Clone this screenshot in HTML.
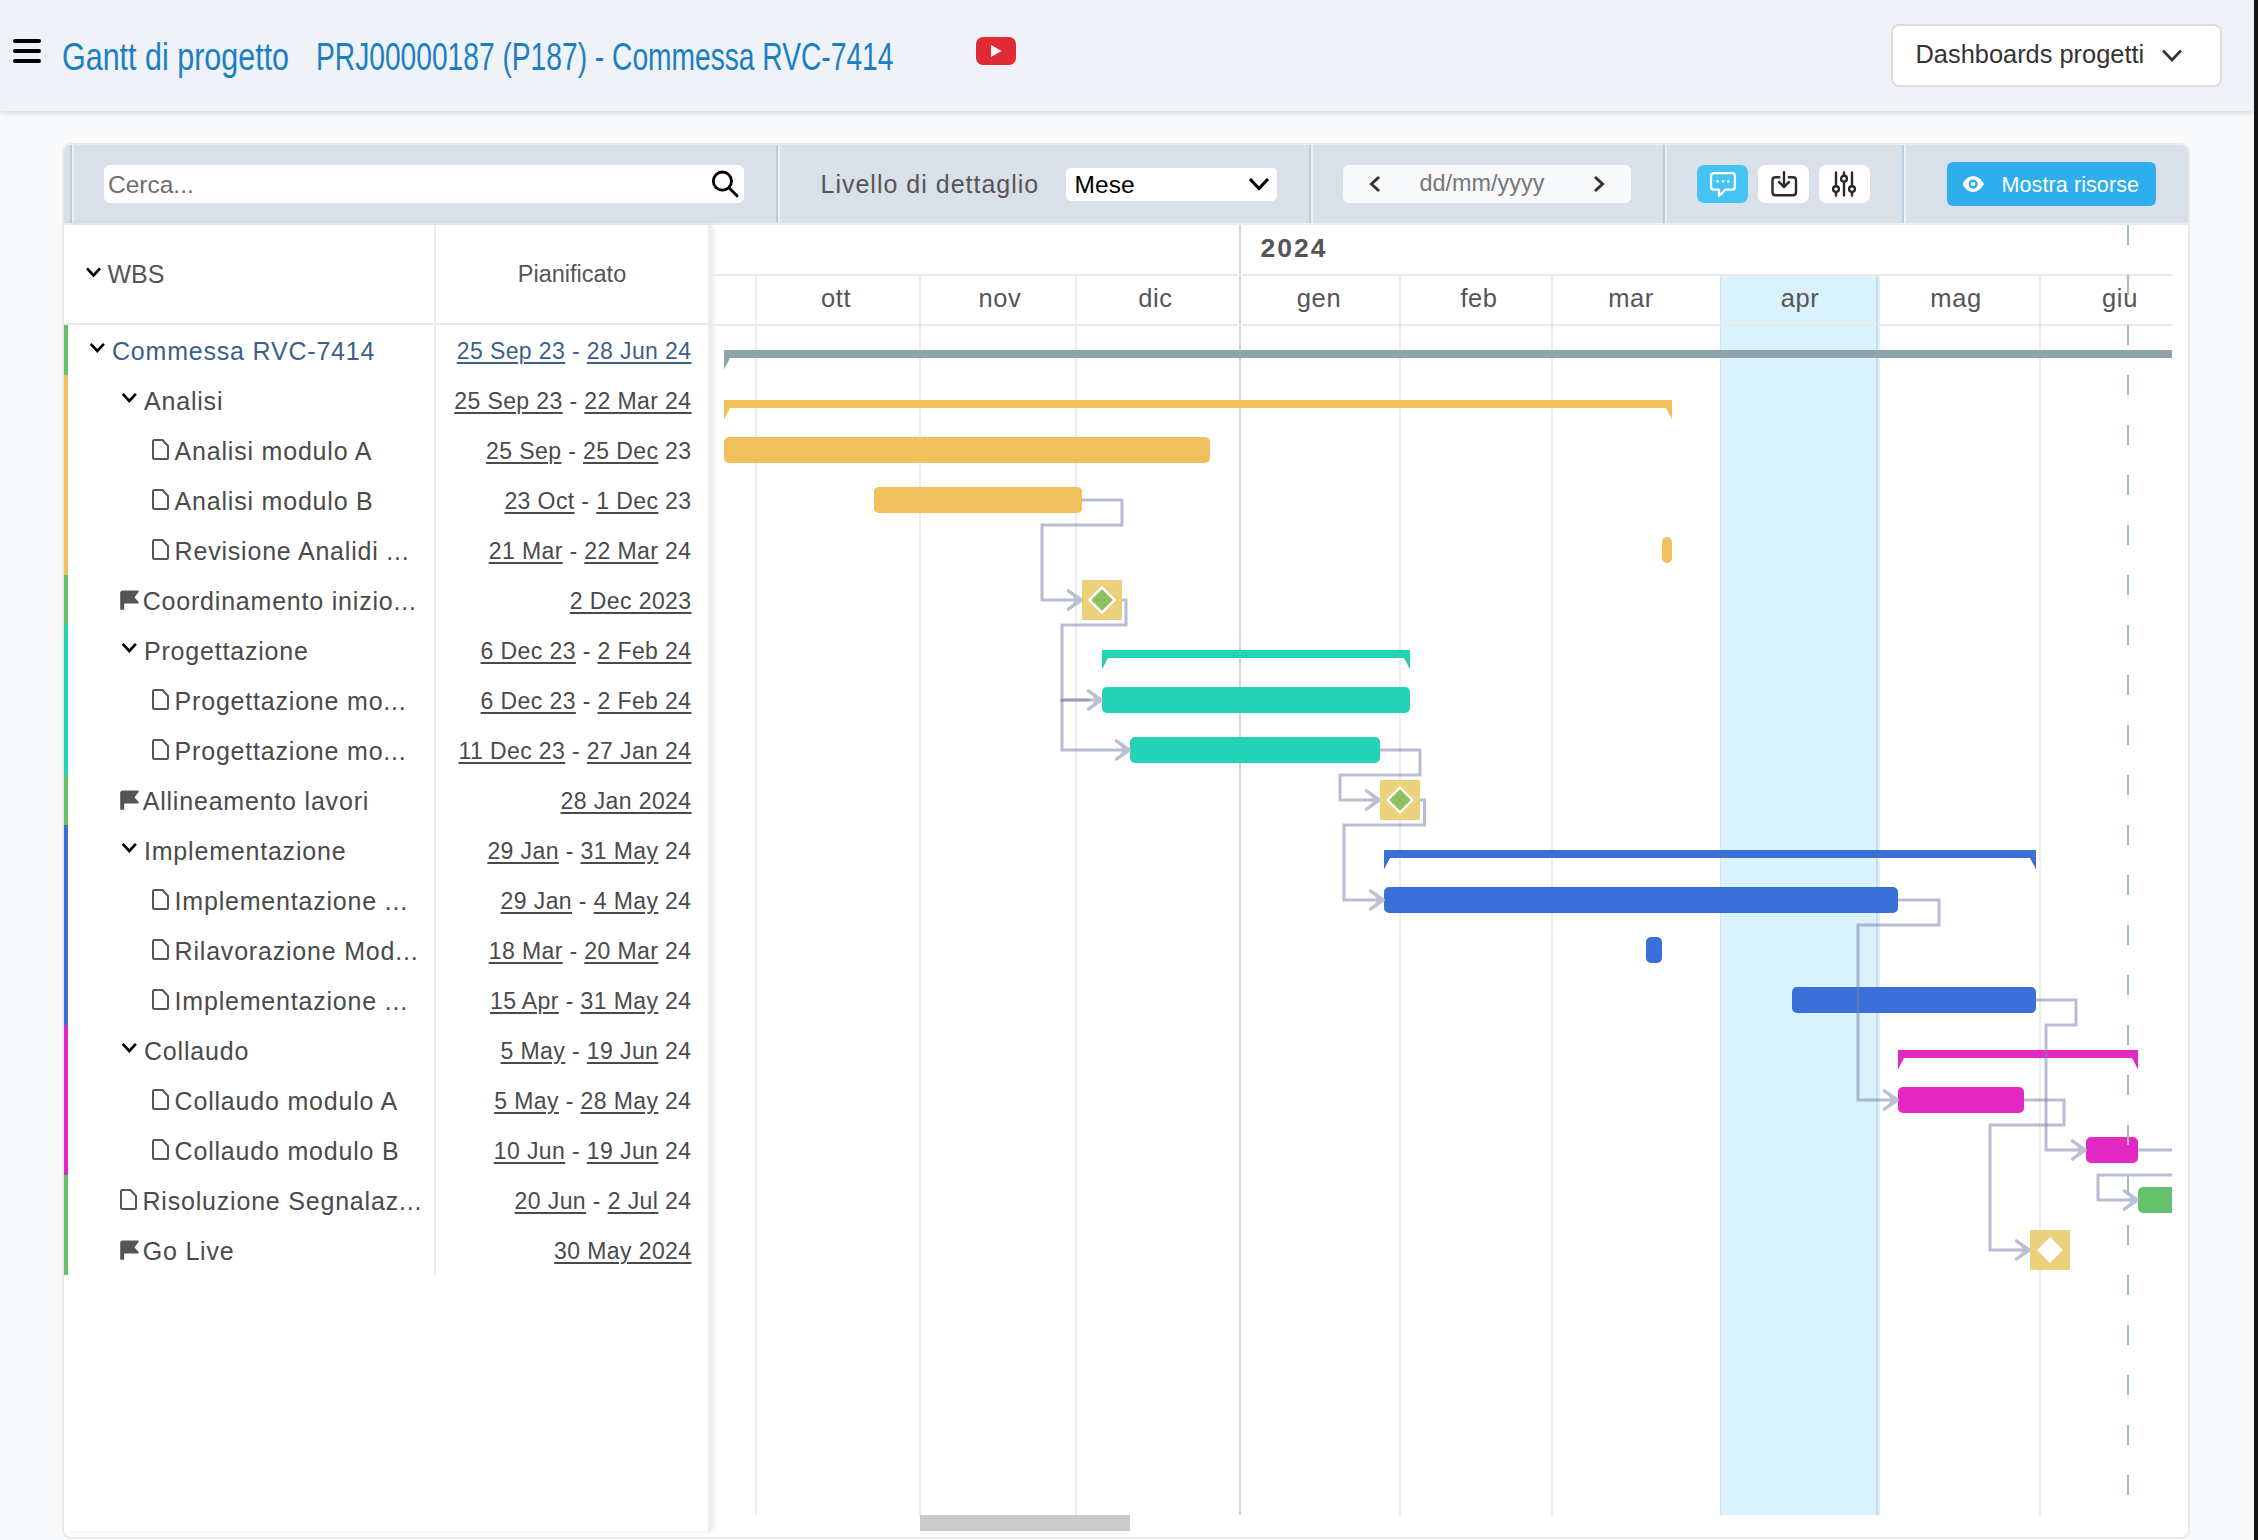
<!DOCTYPE html><html><head><meta charset="utf-8"><style>
html,body{margin:0;padding:0;}
body{width:2258px;height:1540px;position:relative;overflow:hidden;background:#f8f9fb;font-family:"Liberation Sans",sans-serif;}
.t{position:absolute;white-space:nowrap;}
.a{position:absolute;}
u{text-decoration:underline;text-decoration-thickness:2px;text-underline-offset:3px;}
</style></head><body>
<div class="a" style="left:0;top:0;width:2254px;height:111px;background:#eff2f7;box-shadow:0 2px 5px rgba(0,0,0,0.12);"></div>
<div class="a" style="left:13px;top:39px;width:28px;height:4px;border-radius:2px;background:#000;"></div>
<div class="a" style="left:13px;top:49px;width:28px;height:4px;border-radius:2px;background:#000;"></div>
<div class="a" style="left:13px;top:59px;width:28px;height:4px;border-radius:2px;background:#000;"></div>
<div class="t" style="left:61.8px;top:38.49px;font-size:38.4px;line-height:38.4px;color:#1b7fc4;transform:scaleX(0.794);transform-origin:0 0;">Gantt di progetto</div>
<div class="t" style="left:316px;top:38.49px;font-size:38.4px;line-height:38.4px;color:#1b7fc4;transform:scaleX(0.734);transform-origin:0 0;">PRJ00000187 (P187) - Commessa RVC-7414</div>
<svg class="a" style="left:0;top:0" width="1100" height="100"><rect x="976" y="37" width="40" height="28" rx="7" fill="#e02a36"/><path d="M991 45 L1001.5 51 L991 57 Z" fill="#fff"/></svg>
<div class="a" style="left:1890.5px;top:23.5px;width:327px;height:59px;border:2px solid #dcdcdc;border-radius:8px;background:#fff;"></div>
<div class="t" style="left:1915.5px;top:42.10px;font-size:25.4px;line-height:25.4px;color:#333;">Dashboards progetti</div>
<svg class="a" style="left:2150px;top:40px" width="50" height="30"><path d="M13 10.5 L22 20 L31 10.5" fill="none" stroke="#333" stroke-width="2.6"/></svg>
<div class="a" style="left:2254px;top:0;width:4px;height:1540px;background:#151515;"></div>
<div class="a" style="left:62px;top:143px;width:2124px;height:1392px;border:2px solid #eaeaea;border-radius:9px;background:#fff;overflow:hidden;"></div>
<div class="a" style="left:64px;top:145px;width:2124px;height:78px;background:#d9e0ea;border-radius:7px 7px 0 0;"></div>
<div class="a" style="left:64px;top:223px;width:2124px;height:2px;background:#ececec;"></div>
<div class="a" style="left:70px;top:145px;width:2px;height:78px;background:#b9cbde;"></div>
<div class="a" style="left:72px;top:145px;width:2px;height:78px;background:#eef0f3;"></div>
<div class="a" style="left:776px;top:145px;width:2px;height:78px;background:#b9cbde;"></div>
<div class="a" style="left:778px;top:145px;width:2px;height:78px;background:#eef0f3;"></div>
<div class="a" style="left:1309px;top:145px;width:2px;height:78px;background:#b9cbde;"></div>
<div class="a" style="left:1311px;top:145px;width:2px;height:78px;background:#eef0f3;"></div>
<div class="a" style="left:1663px;top:145px;width:2px;height:78px;background:#b9cbde;"></div>
<div class="a" style="left:1665px;top:145px;width:2px;height:78px;background:#eef0f3;"></div>
<div class="a" style="left:1902px;top:145px;width:2px;height:78px;background:#b9cbde;"></div>
<div class="a" style="left:1904px;top:145px;width:2px;height:78px;background:#eef0f3;"></div>
<div class="a" style="left:104px;top:165px;width:640px;height:38px;border-radius:6px;background:#fff;"></div>
<div class="t" style="left:108px;top:172.96px;font-size:24.5px;line-height:24.5px;color:#6f6f6f;">Cerca...</div>
<svg class="a" style="left:700px;top:160px" width="50" height="50"><circle cx="22.4" cy="21.1" r="9.1" fill="none" stroke="#000" stroke-width="2.8"/><path d="M29 27.7 L37 35.7" stroke="#000" stroke-width="2.9" stroke-linecap="round"/></svg>
<div class="t" style="left:820.5px;top:172.24px;font-size:25px;line-height:25px;color:#555;letter-spacing:1px;">Livello di dettaglio</div>
<div class="a" style="left:1066px;top:168px;width:211px;height:33px;border-radius:5px;background:#fff;"></div>
<div class="t" style="left:1074.6px;top:173.06px;font-size:24.5px;line-height:24.5px;color:#000;">Mese</div>
<svg class="a" style="left:1240px;top:170px" width="40" height="30"><path d="M10 9 L19 18.5 L28 9" fill="none" stroke="#000" stroke-width="3.2"/></svg>
<div class="a" style="left:1343px;top:165px;width:288px;height:38px;border-radius:6px;background:#f7f9fb;"></div>
<svg class="a" style="left:1360px;top:170px" width="260" height="30"><path d="M19 7 L11.5 14 L19 21" fill="none" stroke="#333" stroke-width="3"/><path d="M235 7 L242.5 14 L235 21" fill="none" stroke="#333" stroke-width="3"/></svg>
<div class="t" style="left:1419.6px;top:172.19px;font-size:23.4px;line-height:23.4px;color:#777;">dd/mm/yyyy</div>
<div class="a" style="left:1697px;top:165px;width:51px;height:38px;border-radius:7px;background:#45c3f5;"></div>
<div class="a" style="left:1758px;top:165px;width:51px;height:38px;border-radius:7px;background:#fff;"></div>
<div class="a" style="left:1819px;top:165px;width:51px;height:38px;border-radius:7px;background:#fff;"></div>
<svg class="a" style="left:1690px;top:160px" width="190" height="50">
<path d="M24 13.15 H41.9 Q44.9 13.15 44.9 16.15 V26.65 Q44.9 29.65 41.9 29.65 H35.5 L29 36 V29.65 H24 Q21 29.65 21 26.65 V16.15 Q21 13.15 24 13.15 Z" fill="none" stroke="#fff" stroke-width="2.3" stroke-linejoin="round"/>
<circle cx="27.6" cy="21.4" r="1.3" fill="#fff"/><circle cx="33" cy="21.4" r="1.3" fill="#fff"/><circle cx="38.3" cy="21.4" r="1.3" fill="#fff"/>
<path d="M89.3 17.3 H85.5 Q82.5 17.3 82.5 20.3 V32.3 Q82.5 35.3 85.5 35.3 H103 Q106 35.3 106 32.3 V20.3 Q106 17.3 103 17.3 H98.8" fill="none" stroke="#2b2b2b" stroke-width="2.4" stroke-linecap="round"/>
<path d="M94 12.2 V26.5" stroke="#2b2b2b" stroke-width="2.4" stroke-linecap="round"/><path d="M89.2 22.2 L94 27 L98.8 22.2" fill="none" stroke="#2b2b2b" stroke-width="2.6" stroke-linecap="round"/>
<path d="M146 12.4 V35.6 M154 12.4 V35.6 M162 12.4 V35.6" stroke="#2b2b2b" stroke-width="2.4" stroke-linecap="round"/>
<circle cx="146" cy="29.1" r="2.9" fill="#fff" stroke="#2b2b2b" stroke-width="2.4"/>
<circle cx="154" cy="18.7" r="2.9" fill="#fff" stroke="#2b2b2b" stroke-width="2.4"/>
<circle cx="162" cy="29.1" r="2.9" fill="#fff" stroke="#2b2b2b" stroke-width="2.4"/>
</svg>
<div class="a" style="left:1947px;top:162px;width:209px;height:44px;border-radius:6px;background:#2eaeec;"></div>
<svg class="a" style="left:1955px;top:170px" width="40" height="30"><path d="M7.5 14 C12.5 3.5 23.5 3.5 28.9 14 C23.5 24.5 12.5 24.5 7.5 14 Z" fill="#fff"/><circle cx="18.2" cy="14.1" r="4.6" fill="#2eaeec"/><circle cx="18.2" cy="14.1" r="2.2" fill="#fff"/></svg>
<div class="t" style="left:2001.5px;top:175.20px;font-size:21.5px;line-height:21.5px;color:#fff;letter-spacing:0.1px;">Mostra risorse</div>
<div class="a" style="left:64px;top:225px;width:645px;height:1306px;background:#fff;box-shadow:4px 0 6px rgba(0,0,0,0.10);"></div>
<div class="a" style="left:708px;top:225px;width:2px;height:1306px;background:#ebebeb;"></div>
<div class="a" style="left:64px;top:323px;width:645px;height:2px;background:#e9e9e9;"></div>
<div class="a" style="left:434px;top:225px;width:2px;height:1050px;background:#ececec;"></div>
<div class="t" style="left:107.4px;top:262.44px;font-size:25px;line-height:25px;color:#555;">WBS</div>
<div class="t" style="left:272px;width:600px;text-align:center;top:262.81px;font-size:23.5px;line-height:23.5px;color:#555;">Pianificato</div>
<div class="a" style="left:64px;top:325px;width:4px;height:50px;background:#63c36b;"></div>
<div class="t" style="left:112px;top:338.84px;font-size:25px;line-height:25px;color:#3b5f88;letter-spacing:0.8px;">Commessa RVC-7414</div>
<div class="t" style="right:1566.5px;top:339.53px;font-size:23px;line-height:23px;color:#3b5f88;letter-spacing:0.4px;"><u>25 Sep 23</u> - <u>28 Jun 24</u></div>
<div class="a" style="left:64px;top:375px;width:4px;height:50px;background:#efc05c;"></div>
<div class="t" style="left:144px;top:388.84px;font-size:25px;line-height:25px;color:#4a4a4a;letter-spacing:0.8px;">Analisi</div>
<div class="t" style="right:1566.5px;top:389.53px;font-size:23px;line-height:23px;color:#4a4a4a;letter-spacing:0.4px;"><u>25 Sep 23</u> - <u>22 Mar 24</u></div>
<div class="a" style="left:64px;top:425px;width:4px;height:50px;background:#efc05c;"></div>
<div class="t" style="left:174.6px;top:438.84px;font-size:25px;line-height:25px;color:#4a4a4a;letter-spacing:0.8px;">Analisi modulo A</div>
<div class="t" style="right:1566.5px;top:439.53px;font-size:23px;line-height:23px;color:#4a4a4a;letter-spacing:0.4px;"><u>25 Sep</u> - <u>25 Dec</u> 23</div>
<div class="a" style="left:64px;top:475px;width:4px;height:50px;background:#efc05c;"></div>
<div class="t" style="left:174.6px;top:488.84px;font-size:25px;line-height:25px;color:#4a4a4a;letter-spacing:0.8px;">Analisi modulo B</div>
<div class="t" style="right:1566.5px;top:489.53px;font-size:23px;line-height:23px;color:#4a4a4a;letter-spacing:0.4px;"><u>23 Oct</u> - <u>1 Dec</u> 23</div>
<div class="a" style="left:64px;top:525px;width:4px;height:50px;background:#efc05c;"></div>
<div class="t" style="left:174.6px;top:538.84px;font-size:25px;line-height:25px;color:#4a4a4a;letter-spacing:0.8px;">Revisione Analidi ...</div>
<div class="t" style="right:1566.5px;top:539.53px;font-size:23px;line-height:23px;color:#4a4a4a;letter-spacing:0.4px;"><u>21 Mar</u> - <u>22 Mar</u> 24</div>
<div class="a" style="left:64px;top:575px;width:4px;height:50px;background:#63c36b;"></div>
<div class="t" style="left:142.7px;top:588.84px;font-size:25px;line-height:25px;color:#4a4a4a;letter-spacing:0.8px;">Coordinamento inizio...</div>
<div class="t" style="right:1566.5px;top:589.53px;font-size:23px;line-height:23px;color:#4a4a4a;letter-spacing:0.4px;"><u>2 Dec 2023</u></div>
<div class="a" style="left:64px;top:625px;width:4px;height:50px;background:#24d3b5;"></div>
<div class="t" style="left:144px;top:638.84px;font-size:25px;line-height:25px;color:#4a4a4a;letter-spacing:0.8px;">Progettazione</div>
<div class="t" style="right:1566.5px;top:639.53px;font-size:23px;line-height:23px;color:#4a4a4a;letter-spacing:0.4px;"><u>6 Dec 23</u> - <u>2 Feb 24</u></div>
<div class="a" style="left:64px;top:675px;width:4px;height:50px;background:#24d3b5;"></div>
<div class="t" style="left:174.6px;top:688.84px;font-size:25px;line-height:25px;color:#4a4a4a;letter-spacing:0.8px;">Progettazione mo...</div>
<div class="t" style="right:1566.5px;top:689.53px;font-size:23px;line-height:23px;color:#4a4a4a;letter-spacing:0.4px;"><u>6 Dec 23</u> - <u>2 Feb 24</u></div>
<div class="a" style="left:64px;top:725px;width:4px;height:50px;background:#24d3b5;"></div>
<div class="t" style="left:174.6px;top:738.84px;font-size:25px;line-height:25px;color:#4a4a4a;letter-spacing:0.8px;">Progettazione mo...</div>
<div class="t" style="right:1566.5px;top:739.53px;font-size:23px;line-height:23px;color:#4a4a4a;letter-spacing:0.4px;"><u>11 Dec 23</u> - <u>27 Jan 24</u></div>
<div class="a" style="left:64px;top:775px;width:4px;height:50px;background:#63c36b;"></div>
<div class="t" style="left:142.7px;top:788.84px;font-size:25px;line-height:25px;color:#4a4a4a;letter-spacing:0.8px;">Allineamento lavori</div>
<div class="t" style="right:1566.5px;top:789.53px;font-size:23px;line-height:23px;color:#4a4a4a;letter-spacing:0.4px;"><u>28 Jan 2024</u></div>
<div class="a" style="left:64px;top:825px;width:4px;height:50px;background:#3a6fd8;"></div>
<div class="t" style="left:144px;top:838.84px;font-size:25px;line-height:25px;color:#4a4a4a;letter-spacing:0.8px;">Implementazione</div>
<div class="t" style="right:1566.5px;top:839.53px;font-size:23px;line-height:23px;color:#4a4a4a;letter-spacing:0.4px;"><u>29 Jan</u> - <u>31 May</u> 24</div>
<div class="a" style="left:64px;top:875px;width:4px;height:50px;background:#3a6fd8;"></div>
<div class="t" style="left:174.6px;top:888.84px;font-size:25px;line-height:25px;color:#4a4a4a;letter-spacing:0.8px;">Implementazione ...</div>
<div class="t" style="right:1566.5px;top:889.53px;font-size:23px;line-height:23px;color:#4a4a4a;letter-spacing:0.4px;"><u>29 Jan</u> - <u>4 May</u> 24</div>
<div class="a" style="left:64px;top:925px;width:4px;height:50px;background:#3a6fd8;"></div>
<div class="t" style="left:174.6px;top:938.84px;font-size:25px;line-height:25px;color:#4a4a4a;letter-spacing:0.8px;">Rilavorazione Mod...</div>
<div class="t" style="right:1566.5px;top:939.53px;font-size:23px;line-height:23px;color:#4a4a4a;letter-spacing:0.4px;"><u>18 Mar</u> - <u>20 Mar</u> 24</div>
<div class="a" style="left:64px;top:975px;width:4px;height:50px;background:#3a6fd8;"></div>
<div class="t" style="left:174.6px;top:988.84px;font-size:25px;line-height:25px;color:#4a4a4a;letter-spacing:0.8px;">Implementazione ...</div>
<div class="t" style="right:1566.5px;top:989.53px;font-size:23px;line-height:23px;color:#4a4a4a;letter-spacing:0.4px;"><u>15 Apr</u> - <u>31 May</u> 24</div>
<div class="a" style="left:64px;top:1025px;width:4px;height:50px;background:#e327c2;"></div>
<div class="t" style="left:144px;top:1038.84px;font-size:25px;line-height:25px;color:#4a4a4a;letter-spacing:0.8px;">Collaudo</div>
<div class="t" style="right:1566.5px;top:1039.53px;font-size:23px;line-height:23px;color:#4a4a4a;letter-spacing:0.4px;"><u>5 May</u> - <u>19 Jun</u> 24</div>
<div class="a" style="left:64px;top:1075px;width:4px;height:50px;background:#e327c2;"></div>
<div class="t" style="left:174.6px;top:1088.84px;font-size:25px;line-height:25px;color:#4a4a4a;letter-spacing:0.8px;">Collaudo modulo A</div>
<div class="t" style="right:1566.5px;top:1089.53px;font-size:23px;line-height:23px;color:#4a4a4a;letter-spacing:0.4px;"><u>5 May</u> - <u>28 May</u> 24</div>
<div class="a" style="left:64px;top:1125px;width:4px;height:50px;background:#e327c2;"></div>
<div class="t" style="left:174.6px;top:1138.84px;font-size:25px;line-height:25px;color:#4a4a4a;letter-spacing:0.8px;">Collaudo modulo B</div>
<div class="t" style="right:1566.5px;top:1139.53px;font-size:23px;line-height:23px;color:#4a4a4a;letter-spacing:0.4px;"><u>10 Jun</u> - <u>19 Jun</u> 24</div>
<div class="a" style="left:64px;top:1175px;width:4px;height:50px;background:#63c36b;"></div>
<div class="t" style="left:142.5px;top:1188.84px;font-size:25px;line-height:25px;color:#4a4a4a;letter-spacing:0.8px;">Risoluzione Segnalaz...</div>
<div class="t" style="right:1566.5px;top:1189.53px;font-size:23px;line-height:23px;color:#4a4a4a;letter-spacing:0.4px;"><u>20 Jun</u> - <u>2 Jul</u> 24</div>
<div class="a" style="left:64px;top:1225px;width:4px;height:50px;background:#63c36b;"></div>
<div class="t" style="left:142.7px;top:1238.84px;font-size:25px;line-height:25px;color:#4a4a4a;letter-spacing:0.8px;">Go Live</div>
<div class="t" style="right:1566.5px;top:1239.53px;font-size:23px;line-height:23px;color:#4a4a4a;letter-spacing:0.4px;"><u>30 May 2024</u></div>
<svg class="a" style="left:0;top:0" width="710" height="1300"><path d="M87 268.3 L93.5 275.5 L100 268.3" fill="none" stroke="#000" stroke-width="2.7"/><path d="M90.7 343.8 L97.3 351.0 L103.9 343.8" fill="none" stroke="#000" stroke-width="2.7"/><path d="M122.7 393.8 L129.3 401.0 L135.9 393.8" fill="none" stroke="#000" stroke-width="2.7"/><path d="M154.5 440 H162.5 L168 446 V457.5 Q168 459 166.5 459 H154.5 Q153 459 153 457.5 V441.5 Q153 440 154.5 440 Z" fill="none" stroke="#555" stroke-width="2" stroke-linejoin="round"/><path d="M154.5 490 H162.5 L168 496 V507.5 Q168 509 166.5 509 H154.5 Q153 509 153 507.5 V491.5 Q153 490 154.5 490 Z" fill="none" stroke="#555" stroke-width="2" stroke-linejoin="round"/><path d="M154.5 540 H162.5 L168 546 V557.5 Q168 559 166.5 559 H154.5 Q153 559 153 557.5 V541.5 Q153 540 154.5 540 Z" fill="none" stroke="#555" stroke-width="2" stroke-linejoin="round"/><path d="M121.2 609 V593 Q121.2 591.5 122.7 591.5 H137.7 L133.2 597.5 L137.7 602.5 H123.2 V609" fill="#555" stroke="#555" stroke-width="2" stroke-linejoin="round" stroke-linecap="round"/><path d="M122.7 643.8 L129.3 651.0 L135.9 643.8" fill="none" stroke="#000" stroke-width="2.7"/><path d="M154.5 690 H162.5 L168 696 V707.5 Q168 709 166.5 709 H154.5 Q153 709 153 707.5 V691.5 Q153 690 154.5 690 Z" fill="none" stroke="#555" stroke-width="2" stroke-linejoin="round"/><path d="M154.5 740 H162.5 L168 746 V757.5 Q168 759 166.5 759 H154.5 Q153 759 153 757.5 V741.5 Q153 740 154.5 740 Z" fill="none" stroke="#555" stroke-width="2" stroke-linejoin="round"/><path d="M121.2 809 V793 Q121.2 791.5 122.7 791.5 H137.7 L133.2 797.5 L137.7 802.5 H123.2 V809" fill="#555" stroke="#555" stroke-width="2" stroke-linejoin="round" stroke-linecap="round"/><path d="M122.7 843.8 L129.3 851.0 L135.9 843.8" fill="none" stroke="#000" stroke-width="2.7"/><path d="M154.5 890 H162.5 L168 896 V907.5 Q168 909 166.5 909 H154.5 Q153 909 153 907.5 V891.5 Q153 890 154.5 890 Z" fill="none" stroke="#555" stroke-width="2" stroke-linejoin="round"/><path d="M154.5 940 H162.5 L168 946 V957.5 Q168 959 166.5 959 H154.5 Q153 959 153 957.5 V941.5 Q153 940 154.5 940 Z" fill="none" stroke="#555" stroke-width="2" stroke-linejoin="round"/><path d="M154.5 990 H162.5 L168 996 V1007.5 Q168 1009 166.5 1009 H154.5 Q153 1009 153 1007.5 V991.5 Q153 990 154.5 990 Z" fill="none" stroke="#555" stroke-width="2" stroke-linejoin="round"/><path d="M122.7 1043.8 L129.3 1051.0 L135.9 1043.8" fill="none" stroke="#000" stroke-width="2.7"/><path d="M154.5 1090 H162.5 L168 1096 V1107.5 Q168 1109 166.5 1109 H154.5 Q153 1109 153 1107.5 V1091.5 Q153 1090 154.5 1090 Z" fill="none" stroke="#555" stroke-width="2" stroke-linejoin="round"/><path d="M154.5 1140 H162.5 L168 1146 V1157.5 Q168 1159 166.5 1159 H154.5 Q153 1159 153 1157.5 V1141.5 Q153 1140 154.5 1140 Z" fill="none" stroke="#555" stroke-width="2" stroke-linejoin="round"/><path d="M122.5 1190 H130.5 L136 1196 V1207.5 Q136 1209 134.5 1209 H122.5 Q121 1209 121 1207.5 V1191.5 Q121 1190 122.5 1190 Z" fill="none" stroke="#555" stroke-width="2" stroke-linejoin="round"/><path d="M121.2 1259 V1243 Q121.2 1241.5 122.7 1241.5 H137.7 L133.2 1247.5 L137.7 1252.5 H123.2 V1259" fill="#555" stroke="#555" stroke-width="2" stroke-linejoin="round" stroke-linecap="round"/></svg>
<div class="a" style="left:1720px;top:276px;width:160px;height:1239px;background:#d9f2fc;"></div>
<div class="a" style="left:1720px;top:276px;width:1px;height:1239px;background:#cfe5ef;"></div>
<div class="a" style="left:755px;top:276px;width:2px;height:1239px;background:#eeeeee;"></div>
<div class="a" style="left:919px;top:276px;width:2px;height:1239px;background:#eeeeee;"></div>
<div class="a" style="left:1075px;top:276px;width:2px;height:1239px;background:#eeeeee;"></div>
<div class="a" style="left:1399px;top:276px;width:2px;height:1239px;background:#eeeeee;"></div>
<div class="a" style="left:1551px;top:276px;width:2px;height:1239px;background:#eeeeee;"></div>
<div class="a" style="left:2039px;top:276px;width:2px;height:1239px;background:#eeeeee;"></div>
<div class="a" style="left:1876px;top:276px;width:1.5px;height:1239px;background:#c8e0ea;"></div>
<div class="a" style="left:1239px;top:225px;width:2px;height:1290px;background:#d4d4d4;"></div>
<div class="a" style="left:711px;top:274px;width:1461px;height:2px;background:#e9e9e9;"></div>
<div class="a" style="left:711px;top:324px;width:1461px;height:2px;background:#e9e9e9;"></div>
<div class="t" style="left:1260.5px;top:234.97px;font-size:26.5px;line-height:26.5px;color:#555;font-weight:bold;letter-spacing:2px;">2024</div>
<div class="t" style="left:536px;width:600px;text-align:center;top:285.71px;font-size:25.5px;line-height:25.5px;color:#555;letter-spacing:0.6px;">ott</div>
<div class="t" style="left:700px;width:600px;text-align:center;top:285.71px;font-size:25.5px;line-height:25.5px;color:#555;letter-spacing:0.6px;">nov</div>
<div class="t" style="left:855.5px;width:600px;text-align:center;top:285.71px;font-size:25.5px;line-height:25.5px;color:#555;letter-spacing:0.6px;">dic</div>
<div class="t" style="left:1019px;width:600px;text-align:center;top:285.71px;font-size:25.5px;line-height:25.5px;color:#555;letter-spacing:0.6px;">gen</div>
<div class="t" style="left:1179px;width:600px;text-align:center;top:285.71px;font-size:25.5px;line-height:25.5px;color:#555;letter-spacing:0.6px;">feb</div>
<div class="t" style="left:1331px;width:600px;text-align:center;top:285.71px;font-size:25.5px;line-height:25.5px;color:#555;letter-spacing:0.6px;">mar</div>
<div class="t" style="left:1500px;width:600px;text-align:center;top:285.71px;font-size:25.5px;line-height:25.5px;color:#555;letter-spacing:0.6px;">apr</div>
<div class="t" style="left:1656px;width:600px;text-align:center;top:285.71px;font-size:25.5px;line-height:25.5px;color:#555;letter-spacing:0.6px;">mag</div>
<div class="t" style="left:1820px;width:600px;text-align:center;top:285.71px;font-size:25.5px;line-height:25.5px;color:#555;letter-spacing:0.6px;">giu</div>
<svg class="a" style="left:0;top:0" width="2258" height="1540"><defs><clipPath id="gc"><rect x="711" y="326" width="1461" height="1189"/></clipPath></defs><g clip-path="url(#gc)"><path d="M724 350 H2300 V369.5 L2294 358 H730 L724 369.5 Z" fill="#8fa3ae"/><path d="M724 400 H1672 V419.5 L1666 408 H730 L724 419.5 Z" fill="#efc05c"/><rect x="724" y="437" width="486" height="26" rx="5" fill="#efc05c"/><rect x="874" y="487" width="208" height="26" rx="5" fill="#efc05c"/><rect x="1662" y="537" width="10" height="26" rx="5" fill="#efc05c"/><path d="M1102 650 H1410 V669.5 L1404 658 H1108 L1102 669.5 Z" fill="#24d3b5"/><rect x="1102" y="687" width="308" height="26" rx="5" fill="#24d3b5"/><rect x="1130" y="737" width="250" height="26" rx="5" fill="#24d3b5"/><path d="M1384 850 H2036 V869.5 L2030 858 H1390 L1384 869.5 Z" fill="#3a6fd8"/><rect x="1384" y="887" width="514" height="26" rx="5" fill="#3a6fd8"/><rect x="1646" y="937" width="16" height="26" rx="5" fill="#3a6fd8"/><rect x="1792" y="987" width="244" height="26" rx="5" fill="#3a6fd8"/><path d="M1898 1050 H2138 V1069.5 L2132 1058 H1904 L1898 1069.5 Z" fill="#e327c2"/><rect x="1898" y="1087" width="126" height="26" rx="5" fill="#e327c2"/><rect x="2086" y="1137" width="52" height="26" rx="5" fill="#e327c2"/><rect x="2138" y="1187" width="62" height="26" rx="5" fill="#65c26c"/><path d="M1082 500 L1122 500 L1122 525 L1042 525 L1042 600 L1078 600" fill="none" stroke="rgba(119,128,170,0.52)" stroke-width="3"/><path d="M1068.4 590.9 L1081.2 600 L1068.4 609.1" fill="none" stroke="#bcc0d5" stroke-width="3.4" stroke-linecap="round" stroke-linejoin="round"/><path d="M1071.7 594 L1081.5 600 L1071.7 606 L1075.2 600 Z" fill="#bcc0d5"/><path d="M1122 600 L1126 600 L1126 625 L1062 625 L1062 700 L1098 700" fill="none" stroke="rgba(119,128,170,0.52)" stroke-width="3"/><path d="M1088.4 690.9 L1101.2 700 L1088.4 709.1" fill="none" stroke="#bcc0d5" stroke-width="3.4" stroke-linecap="round" stroke-linejoin="round"/><path d="M1091.7 694 L1101.5 700 L1091.7 706 L1095.2 700 Z" fill="#bcc0d5"/><path d="M1062 700 L1062 750 L1126 750" fill="none" stroke="rgba(119,128,170,0.52)" stroke-width="3"/><path d="M1116.4 740.9 L1129.2 750 L1116.4 759.1" fill="none" stroke="#bcc0d5" stroke-width="3.4" stroke-linecap="round" stroke-linejoin="round"/><path d="M1119.7 744 L1129.5 750 L1119.7 756 L1123.2 750 Z" fill="#bcc0d5"/><path d="M1060.5 700 L1090 700" fill="none" stroke="rgba(119,128,170,0.52)" stroke-width="3"/><path d="M1380 750 L1420 750 L1420 775 L1340 775 L1340 800 L1376 800" fill="none" stroke="rgba(119,128,170,0.52)" stroke-width="3"/><path d="M1366.4 790.9 L1379.2 800 L1366.4 809.1" fill="none" stroke="#bcc0d5" stroke-width="3.4" stroke-linecap="round" stroke-linejoin="round"/><path d="M1369.7 794 L1379.5 800 L1369.7 806 L1373.2 800 Z" fill="#bcc0d5"/><path d="M1420 800 L1424.5 800 L1424.5 825 L1344 825 L1344 900 L1380 900" fill="none" stroke="rgba(119,128,170,0.52)" stroke-width="3"/><path d="M1370.4 890.9 L1383.2 900 L1370.4 909.1" fill="none" stroke="#bcc0d5" stroke-width="3.4" stroke-linecap="round" stroke-linejoin="round"/><path d="M1373.7 894 L1383.5 900 L1373.7 906 L1377.2 900 Z" fill="#bcc0d5"/><path d="M1898 900 L1939 900 L1939 925 L1858 925 L1858 1100 L1894 1100" fill="none" stroke="rgba(119,128,170,0.52)" stroke-width="3"/><path d="M1884.4 1090.9 L1897.2 1100 L1884.4 1109.1" fill="none" stroke="#bcc0d5" stroke-width="3.4" stroke-linecap="round" stroke-linejoin="round"/><path d="M1887.7 1094 L1897.5 1100 L1887.7 1106 L1891.2 1100 Z" fill="#bcc0d5"/><path d="M2036 1000 L2076 1000 L2076 1025 L2046 1025 L2046 1150 L2082 1150" fill="none" stroke="rgba(119,128,170,0.52)" stroke-width="3"/><path d="M2072.3999999999996 1140.9 L2085.2 1150 L2072.3999999999996 1159.1" fill="none" stroke="#bcc0d5" stroke-width="3.4" stroke-linecap="round" stroke-linejoin="round"/><path d="M2075.7 1144 L2085.5 1150 L2075.7 1156 L2079.2 1150 Z" fill="#bcc0d5"/><path d="M2024 1100 L2064 1100 L2064 1125 L1990 1125 L1990 1250 L2026 1250" fill="none" stroke="rgba(119,128,170,0.52)" stroke-width="3"/><path d="M2016.4 1240.9 L2029.2 1250 L2016.4 1259.1" fill="none" stroke="#bcc0d5" stroke-width="3.4" stroke-linecap="round" stroke-linejoin="round"/><path d="M2019.7 1244 L2029.5 1250 L2019.7 1256 L2023.2 1250 Z" fill="#bcc0d5"/><path d="M2138 1150 L2200 1150" fill="none" stroke="rgba(119,128,170,0.52)" stroke-width="3"/><path d="M2200 1175 L2098 1175 L2098 1200 L2134 1200" fill="none" stroke="rgba(119,128,170,0.52)" stroke-width="3"/><path d="M2124.3999999999996 1190.9 L2137.2 1200 L2124.3999999999996 1209.1" fill="none" stroke="#bcc0d5" stroke-width="3.4" stroke-linecap="round" stroke-linejoin="round"/><path d="M2127.7 1194 L2137.5 1200 L2127.7 1206 L2131.2 1200 Z" fill="#bcc0d5"/><rect x="1082" y="580" width="40" height="40" fill="#ebd17c"/><path d="M1102 587.5 L1114.5 600 L1102 612.5 L1089.5 600 Z" fill="#8fc060" stroke="#fff" stroke-width="2.4"/><rect x="1380" y="780" width="40" height="40" fill="#ebd17c"/><path d="M1400 787.5 L1412.5 800 L1400 812.5 L1387.5 800 Z" fill="#8fc060" stroke="#fff" stroke-width="2.4"/><rect x="2030" y="1230" width="40" height="40" fill="#ebd17c"/><path d="M2050 1238.7 L2061.3 1250 L2050 1261.3 L2038.7 1250 Z" fill="#fff" stroke="#fff" stroke-width="2.4"/></g><path d="M2128 225 V1515" stroke="#9ec39e" stroke-width="2" stroke-dasharray="20 30"/></svg>
<div class="a" style="left:920px;top:1515px;width:210px;height:16px;background:#cbcbcb;"></div>
</body></html>
